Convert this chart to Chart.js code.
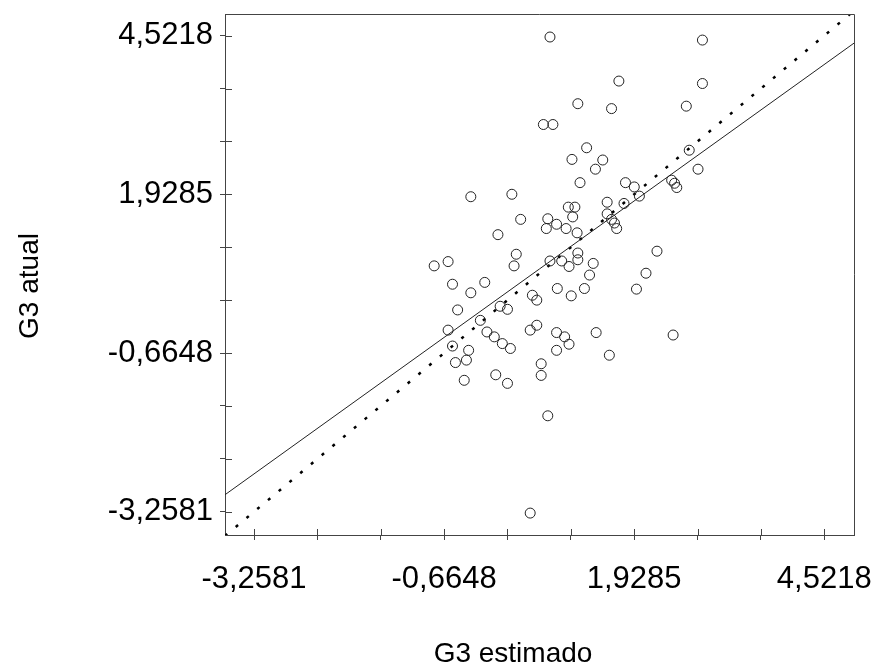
<!DOCTYPE html>
<html>
<head>
<meta charset="utf-8">
<script src="https://cdn.jsdelivr.net/npm/chart.js@4/dist/chart.umd.min.js"></script>
<style>
  html, body { margin: 0; padding: 0; background: #fff; }
  #box { width: 884px; height: 670px; }
</style>
</head>
<body>
<div id="box"><canvas id="g3_chart" width="884" height="670"></canvas></div>
<script>
// G3 estimado (x) vs G3 atual (y)
const estimado = [0.78, 0.69, 0.82, 2.86, 1.72, 2.86, 1.16, 1.62, 2.64, 1.28,
  1.08, 1.50, 1.40, 2.68, 2.80, 1.19, 1.81, 1.93, 2.44, 2.48,
  2.51, 2.00, -0.30, 0.26, 1.56, 1.79, 1.03, 1.12, 1.09, 0.38,
  0.75, 0.87, 0.73, 1.00, 1.15, 1.56, 1.62, 1.66, 1.69, 0.07,
  0.32, 0.29, -0.80, -0.61, 0.78, 0.94, 1.04, 1.16, 1.16, 1.37,
  1.32, 2.24, 2.09, 1.96, -0.55, -0.11, -0.30, 0.88, 1.25, 1.07,
  0.54, 0.60, -0.48, 0.10, 0.20, -0.17, -0.61, -0.08, 0.02, 0.13,
  0.24, 0.51, 0.60, 0.87, 0.98, 1.04, 0.87, 1.41, -0.55, -0.33,
  -0.51, -0.36, 0.66, 0.66, 0.04, 0.20, -0.39, 1.59, 2.46, 0.75,
  0.51];
const atual = [4.50, 3.07, 3.07, 4.45, 3.78, 3.74, 3.41, 3.33, 3.37, 2.69,
  2.50, 2.49, 2.34, 2.65, 2.34, 2.12, 2.12, 2.05, 2.16, 2.11,
  2.04, 1.90, 1.89, 1.93, 1.80, 1.78, 1.72, 1.72, 1.56, 1.52,
  1.53, 1.44, 1.37, 1.37, 1.30, 1.61, 1.52, 1.46, 1.37, 1.27,
  0.95, 0.76, 0.76, 0.83, 0.84, 0.84, 0.75, 0.97, 0.86, 0.80,
  0.61, 1.00, 0.64, 0.38, 0.46, 0.49, 0.32, 0.39, 0.39, 0.27,
  0.28, 0.20, 0.04, 0.10, 0.05, -0.13, -0.29, -0.32, -0.40, -0.51,
  -0.59, -0.29, -0.21, -0.33, -0.40, -0.52, -0.62, -0.33, -0.55, -0.62,
  -0.82, -0.78, -0.84, -1.03, -1.02, -1.16, -1.11, -0.70, -0.37, -1.69,
  -3.28];

// fitted line (solid) and 1:1 line (dotted), end points
const fitX = [-3.654, 4.928];
const fitY = [-2.98, 4.40];
const idealX = [-3.654, 4.928];
const idealY = [-3.654, 4.928];

// axis ticks
const tickValues = [-3.2581, -2.3937, -1.5292, -0.6648, 0.1996, 1.0641, 1.9285, 2.7929, 3.6574, 4.5218];
const tickLabels = ['-3,2581', '', '', '-0,6648', '', '', '1,9285', '', '', '4,5218'];

const FONT = "'Liberation Sans', Arial, sans-serif";
const AXIS_COLOR = '#444';

function toPoints(xs, ys) {
   return xs.map((x, i) => ({ x: x, y: ys[i] }));
}

// frame on top/right, inner half of the tick marks, axis titles
const framePlugin = {
   id: 'frame',
   afterDraw(chart) {
      const ctx = chart.ctx;
      const a = chart.chartArea;
      const xs = chart.scales.x;
      const ys = chart.scales.y;
      ctx.save();
      ctx.strokeStyle = AXIS_COLOR;
      ctx.lineWidth = 1;
      ctx.beginPath();
      ctx.moveTo(a.left, a.top + 0.5);
      ctx.lineTo(a.right + 0.5, a.top + 0.5);
      ctx.lineTo(a.right + 0.5, a.bottom);
      tickValues.forEach(v => {
         const px = Math.round(xs.getPixelForValue(v)) + 0.5;
         ctx.moveTo(px, a.bottom);
         ctx.lineTo(px, a.bottom - 6);
         const py = Math.round(ys.getPixelForValue(v)) + 0.5;
         ctx.moveTo(a.left, py);
         ctx.lineTo(a.left + 7, py);
      });
      ctx.stroke();

      ctx.fillStyle = '#000';
      ctx.font = '28px ' + FONT;
      ctx.textAlign = 'center';
      ctx.textBaseline = 'middle';
      ctx.fillText('G3 estimado', 513, 654);
      ctx.translate(30, 286);
      ctx.rotate(-Math.PI / 2);
      ctx.fillText('G3 atual', 0, 0);
      ctx.restore();
   }
};

const tickFont = { family: FONT, size: 31 };

new Chart(document.querySelector('#g3_chart').getContext('2d'), {
   type: 'scatter',
   data: {
      datasets: [{
         label: 'pontos',
         data: toPoints(estimado, atual),
         pointStyle: 'circle',
         pointRadius: 5,
         pointHoverRadius: 5,
         backgroundColor: 'rgba(0,0,0,0)',
         borderColor: '#222',
         borderWidth: 1
      }, {
         label: 'ajuste',
         type: 'line',
         data: toPoints(fitX, fitY),
         borderColor: '#222',
         borderWidth: 1,
         pointRadius: 0,
         fill: false
      }, {
         label: 'ideal',
         type: 'line',
         data: toPoints(idealX, idealY),
         borderColor: '#000',
         borderWidth: 2.5,
         borderDash: [3, 11],
         pointRadius: 0,
         fill: false
      }]
   },
   options: {
      responsive: false,
      animation: false,
      events: [],
      layout: { padding: { left: 0, top: 14, right: 30, bottom: 0 } },
      plugins: { legend: { display: false }, tooltip: { enabled: false } },
      scales: {
         x: {
            type: 'linear',
            min: -3.654,
            max: 4.928,
            afterBuildTicks: scale => { scale.ticks = tickValues.map(v => ({ value: v })); },
            afterFit: scale => { scale.height = 135; scale.paddingLeft = 0; scale.paddingRight = 0; },
            ticks: {
               autoSkip: false,
               maxRotation: 0,
               color: '#000',
               font: tickFont,
               padding: 21,
               callback: (v, i) => tickLabels[i]
            },
            grid: { drawOnChartArea: false, drawTicks: true, tickLength: 5, color: AXIS_COLOR },
            border: { display: true, color: AXIS_COLOR, width: 1 }
         },
         y: {
            type: 'linear',
            min: -3.638,
            max: 4.876,
            afterBuildTicks: scale => { scale.ticks = tickValues.map(v => ({ value: v })); },
            afterFit: scale => { scale.width = 225; scale.paddingTop = 0; scale.paddingBottom = 0; },
            ticks: {
               autoSkip: false,
               color: '#000',
               font: tickFont,
               padding: 7,
               callback: (v, i) => tickLabels[i]
            },
            grid: { drawOnChartArea: false, drawTicks: true, tickLength: 5, color: AXIS_COLOR },
            border: { display: true, color: AXIS_COLOR, width: 1 }
         }
      }
   },
   plugins: [framePlugin]
});
</script>
</body>
</html>
